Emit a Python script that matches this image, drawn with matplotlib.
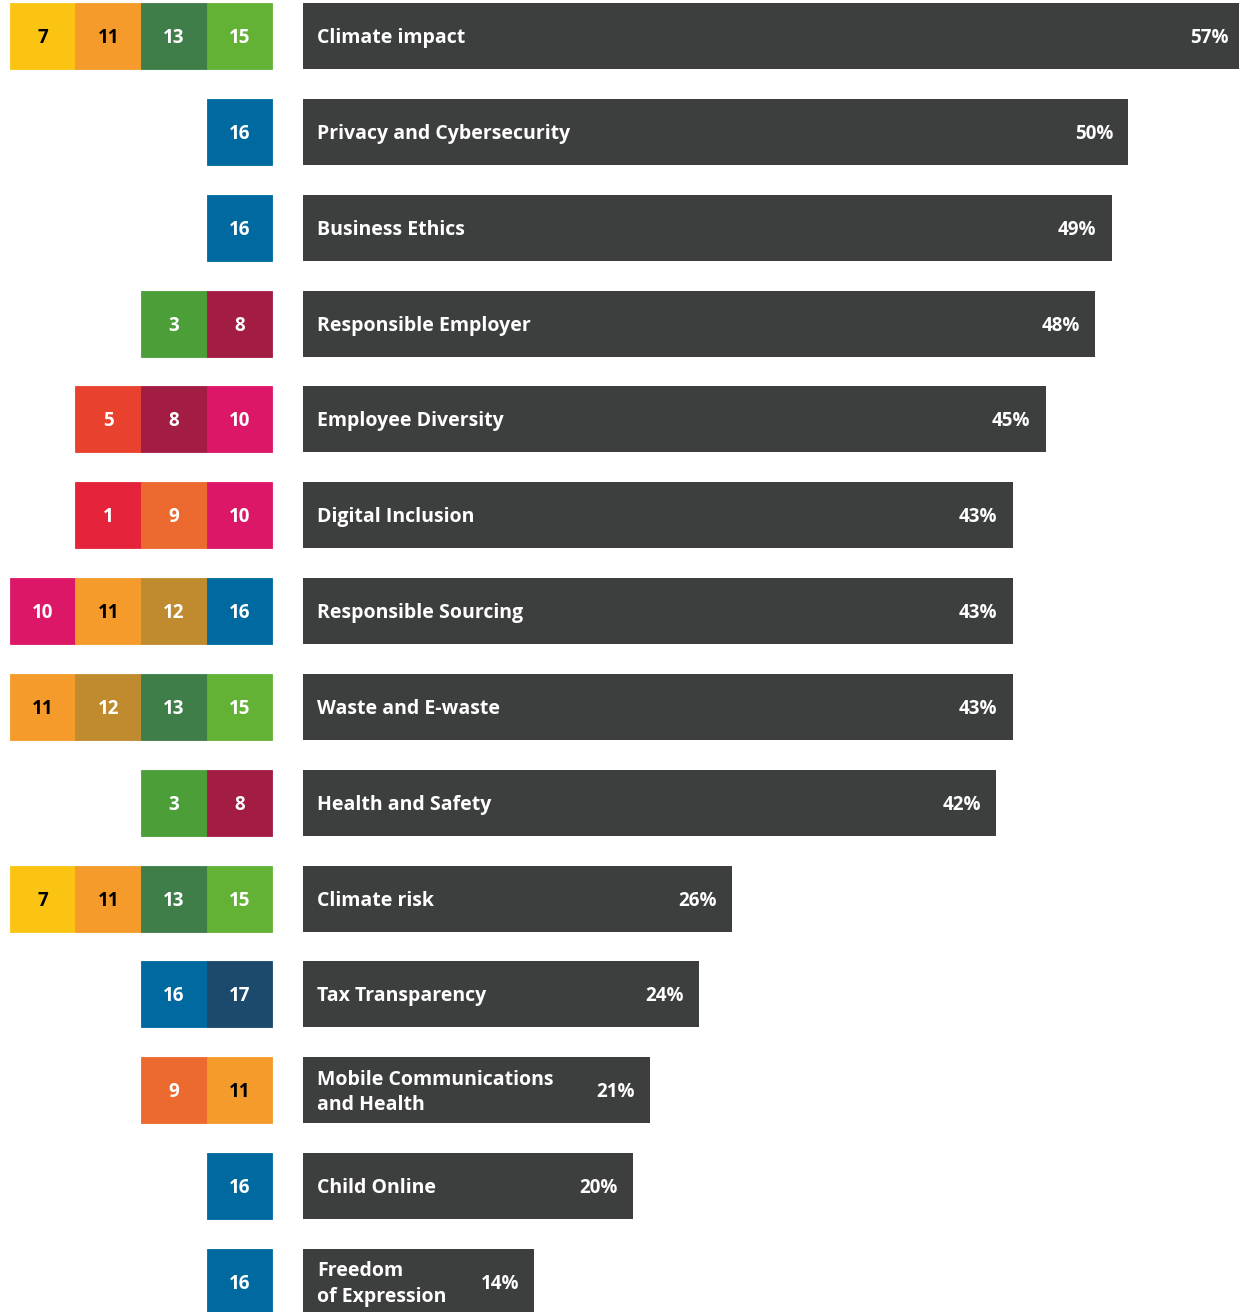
import matplotlib.pyplot as plt

plt.rcParams['font.family'] = ['Open Sans', 'DejaVu Sans']

# material topics, share of respondents and the SDGs each one links to
topics = ["Climate impact", "Privacy and Cybersecurity", "Business Ethics",
          "Responsible Employer", "Employee Diversity", "Digital Inclusion",
          "Responsible Sourcing", "Waste and E-waste", "Health and Safety",
          "Climate risk", "Tax Transparency", "Mobile Communications\nand Health",
          "Child Online", "Freedom\nof Expression"]
shares = [57, 50, 49, 48, 45, 43, 43, 43, 42, 26, 24, 21, 20, 14]
goals = [[7, 11, 13, 15], [16], [16], [3, 8], [5, 8, 10], [1, 9, 10],
         [10, 11, 12, 16], [11, 12, 13, 15], [3, 8], [7, 11, 13, 15],
         [16, 17], [9, 11], [16], [16]]

sdg_colors = {1: '#E5243B', 3: '#4C9F38', 5: '#E8422F', 7: '#FBC412',
              8: '#A21C44', 9: '#EC6A2F', 10: '#DD1767', 11: '#F49B2B',
              12: '#C08A2F', 13: '#3F7E48', 15: '#63B236', 16: '#0069A0',
              17: '#1C4A6C'}
dark_text = {7, 11}

bar_color = '#3D3F3E'
px = 16.5           # pixels per percent point
row = 95.85         # pixels per row
h = 66 / row
sq_w = 65.5 / px
sq_right = (272 - 303) / px
dy = 2 / row        # nudge text a touch below the bar centre

fig = plt.figure(figsize=(12.39, 13.12), dpi=100)
ax = fig.add_axes([0, 0, 1, 1])
ax.set_xlim(-303 / px, (1239 - 303) / px)
ax.set_ylim((1312 - 36) / row, -36 / row)
ax.axis('off')

for i, (name, val, g) in enumerate(zip(topics, shares, goals)):
    ax.barh(i, val, height=h, color=bar_color, linewidth=0)
    ax.text(14 / px, i + dy, name, color='white', fontsize=14, fontweight='bold',
            va='center', ha='left', linespacing=1.35)
    ax.text(val - 15 / px, i + dy, f'{val}%', color='white', fontsize=13.5,
            fontweight='bold', va='center', ha='right')
    n = len(g)
    for j, s in enumerate(g):
        left = sq_right - (n - j) * sq_w
        ax.barh(i, sq_w, left=left, height=h, color=sdg_colors[s],
                edgecolor=sdg_colors[s], linewidth=0.6)
        ax.text(left + sq_w / 2, i + dy, str(s), fontsize=13.5, fontweight='bold',
                color='black' if s in dark_text else 'white',
                ha='center', va='center')

fig.savefig('out.png', dpi=100)
